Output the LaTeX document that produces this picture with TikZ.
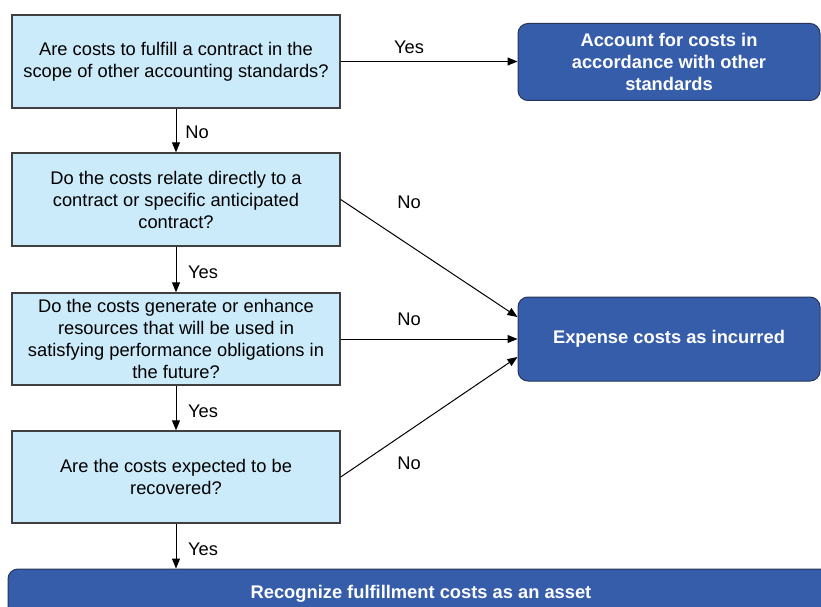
\documentclass[tikz,border=0pt]{standalone}
\usepackage{fontspec}
\setmainfont{Liberation Sans}
\usetikzlibrary{arrows.meta, positioning}
\definecolor{qfill}{RGB}{204,235,250}
\definecolor{qline}{RGB}{64,64,64}
\definecolor{afill}{RGB}{54,93,170}
\definecolor{aline}{RGB}{38,52,88}

\begin{document}
\begin{tikzpicture}[
x=1pt, y=-1pt,
>={Triangle[length=10pt,width=8pt]},
every node/.style={font=\fontsize{18.3}{22}\selectfont},
question/.style={draw=qline, line width=1.4pt, fill=qfill, align=center,
  minimum width=328pt, minimum height=92pt, inner sep=0pt},
action/.style={draw=aline, line width=1pt, fill=afill, rounded corners=10pt,
  text=white, font=\bfseries\fontsize{18.3}{22}\selectfont, align=center,
  inner sep=0pt},
link/.style={->, line width=1pt},
]
\useasboundingbox (0,0) rectangle (821,607);
\clip (0,0) rectangle (821,607);

%% questions
% nodes
\node[question, minimum height=93pt] (q1) at (176,61.5)
  {Are costs to fulfill a contract in the\\scope of other accounting standards?};
\node[question, minimum height=93pt] (q2) at (176,199.5)
  {Do the costs relate directly to a\\contract or specific anticipated\\contract?};
\node[question] (q3) at (176,339)
  {Do the costs generate or enhance\\resources that will be used in\\satisfying performance obligations in\\the future?};
\node[question] (q4) at (176,477)
  {Are the costs expected to be\\recovered?};

%% outcomes
% nodes
\node[action, minimum width=302pt, minimum height=77pt] (acct) at (669,62)
  {Account for costs in\\accordance with other\\standards};
\node[action, minimum width=302pt, minimum height=84pt] (expense) at (669,339)
  {Expense costs as incurred};
\node[action, minimum width=826pt, minimum height=50pt] (asset) at (421,594)
  {Recognize fulfillment costs as an asset};

% arrows
\draw[link] (q1.east) -- (q1.east -| acct.west);
\draw[link] (q1) -- (q2);
\draw[link] (q2) -- (q3);
\draw[link] (q3) -- (q4);
\draw[link] (q4.south) -- (q4.south |- asset.north);
\draw[link] (q2.east) -- ([yshift=22pt]expense.west);
\draw[link] (q3.east) -- (expense.west);
\draw[link] (q4.east) -- ([yshift=-18pt]expense.west);

% labels
\node (yes1) at (409,47) {Yes};
\node (no1) at (197,132) {No};
\node (yes2) at (203,272) {Yes};
\node (yes3) at (203,411) {Yes};
\node (yes4) at (203,549) {Yes};
\node (no2) at (409,202) {No};
\node (no3) at (409,319) {No};
\node (no4) at (409,463) {No};
\end{tikzpicture}
\end{document}
